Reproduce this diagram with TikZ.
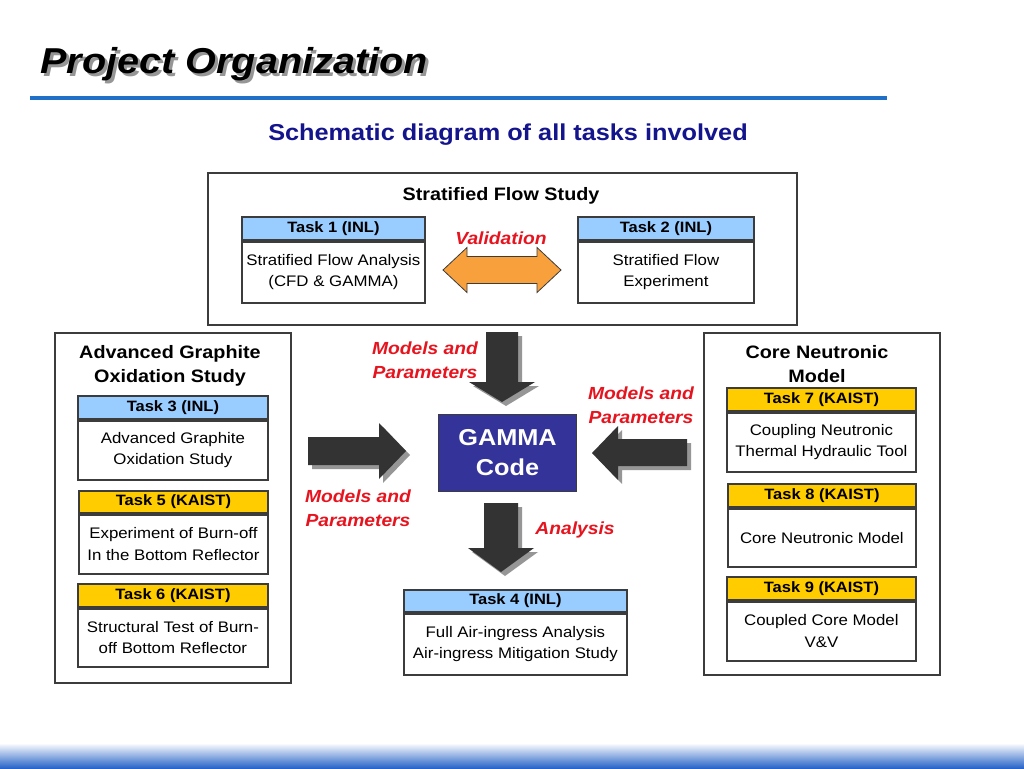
\documentclass[tikz,border=0pt]{standalone}
\usepackage{fontspec}
\setmainfont{Liberation Sans}[FakeStretch=1.1]
\definecolor{bordc}{RGB}{60,60,60}
\definecolor{lblue}{RGB}{153,204,255}
\definecolor{gold}{RGB}{255,204,0}
\definecolor{gammab}{RGB}{51,51,153}
\definecolor{redt}{RGB}{230,20,30}
\definecolor{navyt}{RGB}{20,20,140}
\definecolor{lineblue}{RGB}{32,112,200}
\definecolor{orangea}{RGB}{247,160,60}
\definecolor{arrowc}{RGB}{51,51,51}
\definecolor{shadc}{RGB}{150,150,150}
\definecolor{botblue}{RGB}{40,100,200}
\newcommand\fs[2]{\fontsize{#1}{#2}\selectfont}
\newcommand\shadowtext[1]{\rlap{\kern3pt\raisebox{-3pt}{\color{shadc}#1}}#1}
\tikzset{
  outer/.style={draw=bordc, line width=2pt, anchor=north west, inner sep=0pt},
  hdr/.style={draw=bordc, line width=1.8pt, anchor=north west, inner sep=0pt, font=\fs{15}{18}\bfseries},
  bodyb/.style={draw=bordc, line width=1.8pt, anchor=north, inner sep=0pt, fill=white, align=center, font=\fs{15.3}{21.5}},
  redlab/.style={text=redt, font=\fs{17.5}{24}\bfseries\itshape, align=center},
  ttl/.style={font=\fs{18}{24}\bfseries, align=center},
}
\newcommand\taskbox[9]{%
  \node[hdr, fill=#7, minimum width=#4, minimum height=#5] (#1h) at (#2,#3) {#8};
  \node[bodyb, minimum width=#4, minimum height=#6] (#1b) at (#1h.south) {#9};}
\begin{document}
\begin{tikzpicture}[x=1pt,y=-1pt]
\useasboundingbox (0,0) rectangle (1024,768);
\fill[white] (0,0) rectangle (1024,768);
% bottom gradient
\shade[top color=white, bottom color=botblue] (0,743) rectangle (1024,768);
% title
\node[anchor=base west, font=\fs{36}{40}\bfseries\itshape] (title) at (37,73) {\shadowtext{Project Organization}};
\coordinate (la) at (30,98);
\coordinate (lb) at (887,98);
\draw[lineblue, line width=4pt] (la) -- (lb);
\node[anchor=base, font=\fs{23}{26}\bfseries, text=navyt] (sub) at (508,140) {Schematic diagram of all tasks involved};
% stratified flow study
\node[outer, minimum width=589, minimum height=152] (sfs) at (207,172) {};
\node[ttl, anchor=base] (sfst) at (501,200) {Stratified Flow Study};
\taskbox{t1}{241}{216}{183}{23}{61}{lblue}{Task 1 (INL)}{Stratified Flow Analysis\\(CFD \& GAMMA)}
\taskbox{t2}{577}{216}{176}{23}{61}{lblue}{Task 2 (INL)}{Stratified Flow\\Experiment}
\node[redlab, anchor=base] (val) at (501,244) {Validation};
\draw[fill=orangea, draw=bordc, line width=0.8pt] (443,270) -- (467,247.5) -- (467,256.5) -- (537,256.5) -- (537,247.5) -- (561,270) -- (537,292.5) -- (537,283.5) -- (467,283.5) -- (467,292.5) -- cycle;
% left box
\node[outer, minimum width=236, minimum height=350] (agos) at (54,332) {};
\node[ttl] (agost) at (170,366) {Advanced Graphite\\Oxidation Study};
\taskbox{t3}{77}{395}{190}{23}{59}{lblue}{Task 3 (INL)}{Advanced Graphite\\Oxidation Study}
\taskbox{t5}{78}{490}{189}{22}{59}{gold}{Task 5 (KAIST)}{Experiment of Burn-off\\In the Bottom Reflector}
\taskbox{t6}{77}{583}{190}{23}{58}{gold}{Task 6 (KAIST)}{Structural Test of Burn-\\off Bottom Reflector}
% right box
\node[outer, minimum width=236, minimum height=342] (cnm) at (703,332) {};
\node[ttl] (cnmt) at (817,364) {Core Neutronic\\Model};
\taskbox{t7}{726}{387}{189}{23}{59}{gold}{Task 7 (KAIST)}{Coupling Neutronic\\Thermal Hydraulic Tool}
\taskbox{t8}{727}{483}{188}{23}{58}{gold}{Task 8 (KAIST)}{Core Neutronic Model}
\taskbox{t9}{726}{576}{189}{23}{59}{gold}{Task 9 (KAIST)}{Coupled Core Model\\V\&V}
% gamma
\node[draw=bordc, line width=1pt, fill=gammab, anchor=north west, minimum width=138, minimum height=77, inner sep=0pt, text=white, align=center, font=\fs{23}{30}\bfseries] (gamma) at (438,414) {GAMMA\\Code};
% task 4
\taskbox{t4}{403}{589}{223}{22}{61}{lblue}{Task 4 (INL)}{Full Air-ingress Analysis\\Air-ingress Mitigation Study}
% block arrows
\foreach \dx/\c in {4/shadc, 0/arrowc} {
  \fill[\c, shift={(\dx,\dx)}] (486,332) -- (518,332) -- (518,382) -- (535,382) -- (502,402) -- (469,382) -- (486,382) -- cycle;
  \fill[\c, shift={(\dx,\dx)}] (484,503) -- (518,503) -- (518,548) -- (534,548) -- (501,572) -- (468,548) -- (484,548) -- cycle;
  \fill[\c, shift={(\dx,\dx)}] (308,437) -- (379,437) -- (379,423) -- (406,451) -- (379,479) -- (379,465) -- (308,465) -- cycle;
  \fill[\c, shift={(\dx,\dx)}] (687,439) -- (618,439) -- (618,426) -- (592,453) -- (618,480) -- (618,466) -- (687,466) -- cycle;
}
% red labels
\node[redlab] (mp1) at (425,360) {Models and\\Parameters};
\node[redlab] (mp2) at (641,405) {Models and\\Parameters};
\node[redlab] (mp3) at (358,508) {Models and\\Parameters};
\node[redlab] (an) at (575,530) {Analysis};
\end{tikzpicture}
\end{document}
